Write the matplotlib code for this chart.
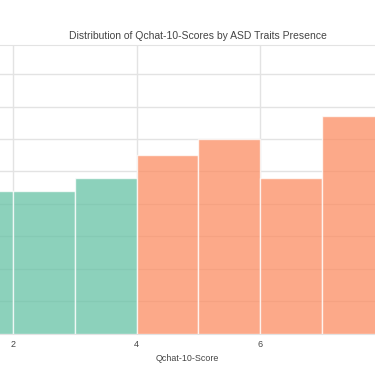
import matplotlib
matplotlib.use("Agg")
from matplotlib import pyplot as plt

# histogram bins (left edges, width 1) and counts
no_bins = [1, 2, 3]
no_counts = [44, 44, 48]
yes_bins = [4, 5, 6, 7]
yes_counts = [55, 60, 48, 67]
x_ticks = [2, 4, 6]

green = "#66c2a5"
orange = "#fc8d62"
grid_col = "#e3e3e3"
text_col = "#444444"

plt.rcParams['font.family'] = ['Liberation Sans', 'DejaVu Sans']

fig = plt.figure(figsize=(3.75, 3.75), dpi=100)
# plot area runs off the left and right edges, as in the reference
ax = fig.add_axes([0, (375 - 333.5) / 375, 1, (333.5 - 45) / 375])

ax.bar(no_bins, no_counts, width=1, align='edge', color=green, alpha=0.75,
       edgecolor='white', linewidth=1, zorder=3)
ax.bar(yes_bins, yes_counts, width=1, align='edge', color=orange, alpha=0.75,
       edgecolor='white', linewidth=1, zorder=3)

ax.set_xlim(2 - 13.3 / 61.7, 2 + (375 - 13.3) / 61.7)
ax.set_ylim(0, (333.5 - 45) / 32.42 * 10)
ax.set_xticks(x_ticks)
ax.set_yticks(range(10, 90, 10))
ax.tick_params(axis='x', length=0, labelsize=6.5, colors=text_col, pad=5)
ax.tick_params(axis='y', length=0, labelleft=False)
ax.grid(True, color=grid_col, linewidth=1, zorder=0)
ax.set_axisbelow(True)

for side in ['left', 'right']:
    ax.spines[side].set_visible(False)
ax.spines['top'].set_color(grid_col)
ax.spines['bottom'].set_color(grid_col)

ax.set_xlabel("Qchat-10-Score", fontsize=6.4, color=text_col, labelpad=3)
fig.text(198 / 375, 1 - 36 / 375, "Distribution of Qchat-10-Scores by ASD Traits Presence",
         ha='center', va='center', fontsize=7.45, color=text_col)

fig.savefig("out.png", dpi=100)
